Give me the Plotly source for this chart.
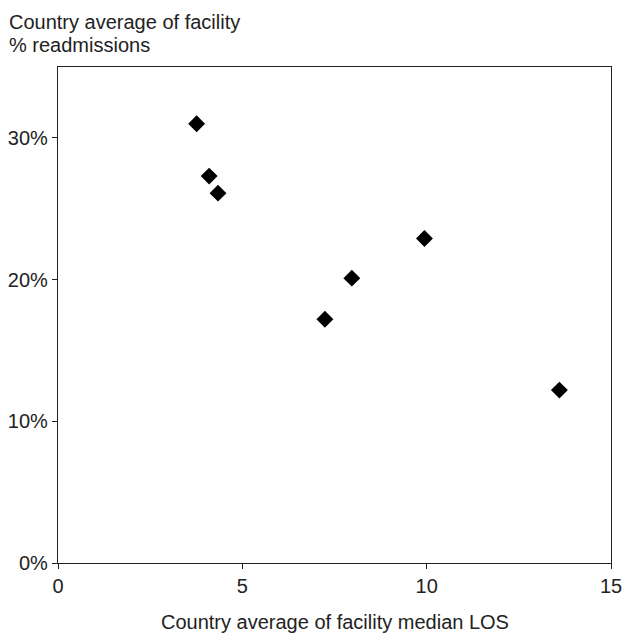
import plotly.graph_objects as go

los = [3.76, 4.10, 4.34, 7.24, 7.97, 9.94, 13.60]
readm = [31.0, 27.3, 26.1, 17.2, 20.1, 22.9, 12.2]

x_ticks = [0, 5, 10, 15]
y_ticks = [0, 10, 20, 30]
y_ticklabels = ["0%", "10%", "20%", "30%"]

fig = go.Figure()
fig.add_trace(go.Scatter(
    x=los, y=readm, mode="markers",
    marker=dict(symbol="diamond", size=13, color="black"),
    showlegend=False, hoverinfo="x+y",
))

font = dict(family="Liberation Sans, Arial, sans-serif", size=20, color="#222")

fig.update_layout(
    width=623, height=633,
    margin=dict(l=58, r=12, t=67, b=70),
    paper_bgcolor="white", plot_bgcolor="white",
    font=font,
    xaxis=dict(range=[0, 15], tickvals=x_ticks, ticks="outside", ticklen=5,
               showline=True, linecolor="#222", linewidth=1.4, mirror=True,
               showgrid=False, zeroline=False, tickcolor="#222", automargin=False),
    yaxis=dict(range=[0, 35], tickvals=y_ticks, ticktext=y_ticklabels, ticks="outside", ticklen=5,
               showline=True, linecolor="#222", linewidth=1.4, mirror=True,
               showgrid=False, zeroline=False, tickcolor="#222", automargin=False),
    annotations=[
        dict(text="Country average of facility", xref="paper", yref="paper",
             x=-0.093, y=1.090, xanchor="left", yanchor="middle",
             showarrow=False, font=font),
        dict(text="% readmissions", xref="paper", yref="paper",
             x=-0.093, y=1.044, xanchor="left", yanchor="middle",
             showarrow=False, font=font),
        dict(text="Country average of facility median LOS", xref="paper", yref="paper",
             x=0.5, y=-0.118, xanchor="center", yanchor="middle",
             showarrow=False, font=font),
    ],
)

fig.write_html(
    "out.html",
    config={"displayModeBar": False},
    post_script="document.body.style.margin='0';document.body.style.overflow='hidden';",
)
